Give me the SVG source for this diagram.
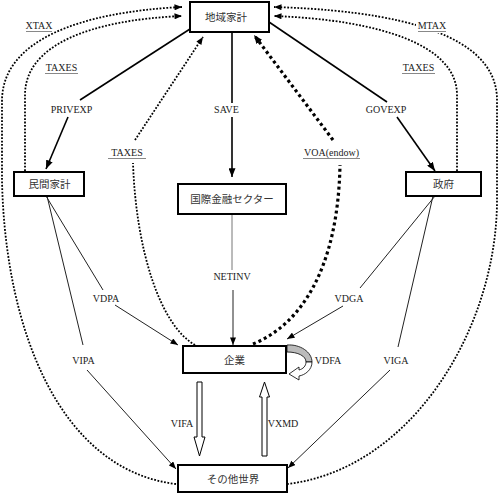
<svg xmlns="http://www.w3.org/2000/svg" width="501" height="495" viewBox="0 0 501 495">
<style>
.box{fill:#fff;stroke:#000;stroke-width:2}
.jp{font-family:"Liberation Serif","Noto Sans CJK JP",serif;font-size:10.5px;fill:#333;text-anchor:middle}
.lb{font-family:"Liberation Serif",serif;font-size:10px;fill:#222;text-anchor:middle}
.thick{fill:none;stroke:#000;stroke-width:1.6}
.thin{fill:none;stroke:#222;stroke-width:1}
.dot{fill:none;stroke:#000;stroke-width:1.8;stroke-dasharray:1.8 1.6}
.hdot{fill:none;stroke:#000;stroke-width:3.2;stroke-dasharray:3 3}
.ul{stroke:#888;stroke-width:1}
.blk{fill:#fff;stroke:#000;stroke-width:1}
</style>
<defs>
<marker id="ah" viewBox="0 0 10 8" refX="10" refY="4" markerWidth="9" markerHeight="7" markerUnits="userSpaceOnUse" orient="auto"><path d="M0,0 L10,4 L0,8 Z" fill="#000"/></marker>
<marker id="ahs" viewBox="0 0 10 8" refX="10" refY="4" markerWidth="8" markerHeight="6" markerUnits="userSpaceOnUse" orient="auto"><path d="M0,0 L10,4 L0,8 Z" fill="#000"/></marker>
</defs>

<g id="connectors">
  <!-- outer dotted XTAX -->
  <path class="dot" d="M176,484 C60,470 5,330 2,180 L2,100 C3,40 80,12 182,7" marker-end="url(#ahs)"/>
  <!-- inner left TAXES -->
  <path class="dot" d="M25,171 L25,95 C25,45 90,20 182,16" marker-end="url(#ahs)"/>
  <!-- outer right MTAX -->
  <path class="dot" d="M287,484 C410,470 497,330 497,200 L497,100 C497,50 440,12 274,7" marker-end="url(#ahs)"/>
  <!-- inner right TAXES -->
  <path class="dot" d="M457,171 L457,95 C457,45 380,20 274,16" marker-end="url(#ahs)"/>
  <!-- middle TAXES from firms -->
  <path class="dot" d="M195,345 C160,325 136,250 133,163"/>
  <path class="dot" d="M135,140 L203,37" marker-end="url(#ahs)"/>
  <!-- VOA(endow) -->
  <path class="hdot" d="M253,344 C300,325 338,270 340,165"/>
  <path class="hdot" d="M333,140 L254,35" marker-end="url(#ah)"/>

  <!-- PRIVEXP -->
  <line class="thick" x1="190" y1="29" x2="80" y2="100"/>
  <line class="thick" x1="68" y1="117" x2="46" y2="169" marker-end="url(#ah)"/>
  <!-- SAVE -->
  <line class="thick" x1="232" y1="32" x2="232" y2="103"/>
  <line class="thick" x1="232" y1="117" x2="232" y2="177" marker-end="url(#ah)"/>
  <!-- GOVEXP -->
  <line class="thick" x1="269" y1="22" x2="387" y2="102"/>
  <line class="thick" x1="397" y1="117" x2="435" y2="171" marker-end="url(#ah)"/>

  <!-- NETINV -->
  <line x1="232" y1="214" x2="232" y2="270" stroke="#777" stroke-width="1"/>
  <line class="thin" x1="233" y1="290" x2="233" y2="345" marker-end="url(#ahs)"/>
  <!-- VDPA -->
  <line class="thin" x1="46" y1="196" x2="103" y2="290"/>
  <line class="thin" x1="115" y1="305" x2="178" y2="345" marker-end="url(#ahs)"/>
  <!-- VIPA -->
  <line class="thin" x1="47" y1="196" x2="83" y2="345"/>
  <line class="thin" x1="87" y1="370" x2="176" y2="469" marker-end="url(#ahs)"/>
  <!-- VDGA -->
  <line class="thin" x1="435" y1="196" x2="360" y2="288"/>
  <line class="thin" x1="343" y1="306" x2="287" y2="339" marker-end="url(#ahs)"/>
  <!-- VIGA -->
  <line class="thin" x1="433" y1="196" x2="398" y2="347"/>
  <line class="thin" x1="390" y1="370" x2="288" y2="468" marker-end="url(#ahs)"/>

  <!-- VIFA block arrow -->
  <polygon class="blk" points="197,382 202,382 202,437 205,437 199.5,456 194,437 197,437"/>
  <!-- VXMD block arrow -->
  <polygon class="blk" points="264.5,382 269.5,397 267,397 267,456 262,456 262,397 259.5,397"/>
  <!-- VDFA curved arrow -->
  <path d="M287,345 C300,344 312,352 312,362 L306,362 C306,356 298,352 287,352 Z" fill="#bbb" stroke="#000" stroke-width="0.8"/>
  <path d="M312,362 C312,370 305,375 299,376 L299,380 L289,374 L299,367 L299,370 C303,369 306,366 306,362 Z" fill="#fff" stroke="#000" stroke-width="0.8"/>

  <!-- labels -->
  <text class="lb" x="39" y="29">XTAX</text><line class="ul" x1="26" y1="31.5" x2="52" y2="31.5"/>
  <text class="lb" x="61.5" y="71">TAXES</text><line class="ul" x1="45" y1="73.5" x2="78" y2="73.5"/>
  <text class="lb" x="71.5" y="113">PRIVEXP</text>
  <text class="lb" x="226.5" y="113">SAVE</text>
  <text class="lb" x="127" y="156">TAXES</text><line class="ul" x1="108" y1="158.5" x2="146" y2="158.5"/>
  <text class="lb" x="331.5" y="156">VOA(endow)</text><line class="ul" x1="303" y1="158.5" x2="360" y2="158.5"/>
  <text class="lb" x="386" y="113">GOVEXP</text>
  <text class="lb" x="418.5" y="71">TAXES</text><line class="ul" x1="402" y1="73.5" x2="435" y2="73.5"/>
  <rect x="416" y="20" width="32" height="13" fill="#fff"/>
  <text class="lb" x="432" y="29">MTAX</text><line class="ul" x1="418" y1="31.5" x2="446" y2="31.5"/>
  <text class="lb" x="232" y="280">NETINV</text>
  <text class="lb" x="106" y="302">VDPA</text>
  <text class="lb" x="83.5" y="364">VIPA</text>
  <text class="lb" x="349" y="302">VDGA</text>
  <text class="lb" x="396" y="364">VIGA</text>
  <text class="lb" x="328" y="364">VDFA</text>
  <text class="lb" x="182" y="427">VIFA</text>
  <text class="lb" x="283" y="427">VXMD</text>
</g>

<g id="regional-household">
  <rect class="box" x="190" y="2" width="79" height="30"/>
  <text class="jp" x="226" y="21">地域家計</text>
</g>
<g id="private-household">
  <rect class="box" x="14" y="172" width="70" height="24"/>
  <text class="jp" x="49.5" y="188">民間家計</text>
</g>
<g id="global-bank">
  <rect class="box" x="178" y="184" width="108" height="30"/>
  <text class="jp" x="232" y="203">国際金融セクター</text>
</g>
<g id="government">
  <rect class="box" x="406" y="172" width="75" height="24"/>
  <text class="jp" x="443.5" y="188">政府</text>
</g>
<g id="firms">
  <rect class="box" x="183" y="346" width="103" height="27"/>
  <text class="jp" x="234.5" y="363.5">企業</text>
</g>
<g id="rest-of-world">
  <rect class="box" x="178" y="465" width="109" height="27"/>
  <text class="jp" x="233" y="482.5">その他世界</text>
</g>
</svg>
